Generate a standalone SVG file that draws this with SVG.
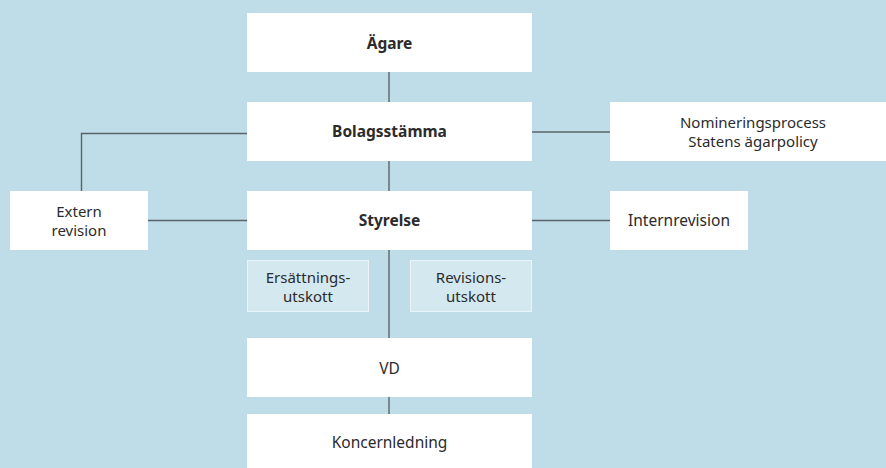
<svg xmlns="http://www.w3.org/2000/svg" width="886" height="468" viewBox="0 0 886 468">
<style>
.bg{fill:#bfdde8}
.box{fill:#ffffff}
.sub{fill:#d4e8f0;stroke:#eaf4f8;stroke-width:1}
text{font-family:"Noto Sans","Open Sans",sans-serif;font-size:15.5px;fill:#2b2b2b;text-anchor:middle}
.m{font-size:15px}
.b{font-weight:bold}
.con{stroke:#5a6468;stroke-width:1.4;fill:none}
</style>
<rect class="bg" x="0" y="0" width="886" height="468"/>
<g id="connectors">
<line class="con" x1="389" y1="72" x2="389" y2="102"/>
<line class="con" x1="389" y1="161" x2="389" y2="191"/>
<line class="con" x1="389" y1="250" x2="389" y2="338"/>
<line class="con" x1="389" y1="397" x2="389" y2="414"/>
<polyline class="con" points="247,133.5 81.5,133.5 81.5,191"/>
<line class="con" x1="532" y1="132" x2="610" y2="132"/>
<line class="con" x1="148" y1="220.5" x2="247" y2="220.5"/>
<line class="con" x1="532" y1="220.5" x2="610" y2="220.5"/>
</g>
<g id="agare"><rect class="box" x="247" y="13" width="285" height="59"/><text class="b" x="389.5" y="48.5">Ägare</text></g>
<g id="bolagsstamma"><rect class="box" x="247" y="102" width="285" height="59"/><text class="b" x="389.5" y="136.5">Bolagsstämma</text></g>
<g id="nominering"><rect class="box" x="610" y="102" width="276" height="59"/><text class="m" x="753" y="127.5">Nomineringsprocess</text><text class="m" x="753" y="146.5">Statens ägarpolicy</text></g>
<g id="extern"><rect class="box" x="10" y="191" width="138" height="59"/><text class="m" x="79" y="216.8">Extern</text><text class="m" x="79" y="235.8">revision</text></g>
<g id="styrelse"><rect class="box" x="247" y="191" width="285" height="59"/><text class="b" x="389.5" y="225.5">Styrelse</text></g>
<g id="internrevision"><rect class="box" x="610" y="191" width="138" height="59"/><text x="679" y="225.5">Internrevision</text></g>
<g id="ersattning"><rect class="sub" x="247.5" y="260.5" width="121" height="51"/><text class="m" x="308" y="282.8">Ersättnings-</text><text class="m" x="308" y="301.8">utskott</text></g>
<g id="revisionsutskott"><rect class="sub" x="410.5" y="260.5" width="121" height="51"/><text class="m" x="471" y="282.8">Revisions-</text><text class="m" x="471" y="301.8">utskott</text></g>
<g id="vd"><rect class="box" x="247" y="338" width="285" height="59"/><text x="389.5" y="373.5">VD</text></g>
<g id="koncernledning"><rect class="box" x="247" y="414" width="285" height="60"/><text x="389.5" y="448">Koncernledning</text></g>
</svg>
